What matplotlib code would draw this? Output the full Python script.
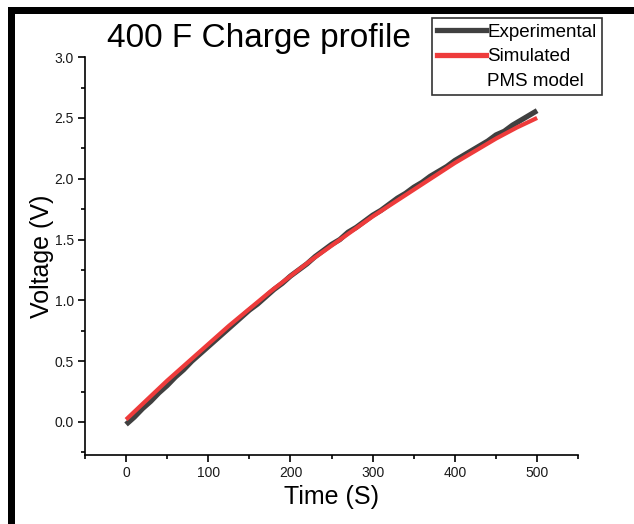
import matplotlib
matplotlib.use('Agg')
import matplotlib.pyplot as plt
from matplotlib.lines import Line2D
from matplotlib.patches import Rectangle

plt.rcParams['font.family'] = ['Liberation Sans', 'DejaVu Sans']

# experimental charge curve, read every 10 s
t_exp = [0, 10, 20, 30, 40, 50, 60, 70, 80, 90,
         100, 110, 120, 130, 140, 150, 160, 170, 180, 190,
         200, 210, 220, 230, 240, 250, 260, 270, 280, 290,
         300, 310, 320, 330, 340, 350, 360, 370, 380, 390,
         400, 410, 420, 430, 440, 450, 460, 470, 480, 490, 500]
v_exp = [-0.02, 0.04, 0.11, 0.17, 0.24, 0.30, 0.37, 0.43, 0.50, 0.56,
         0.62, 0.68, 0.74, 0.80, 0.86, 0.92, 0.97, 1.03, 1.09, 1.14,
         1.20, 1.25, 1.30, 1.36, 1.41, 1.46, 1.50, 1.56, 1.60, 1.65,
         1.70, 1.74, 1.79, 1.84, 1.88, 1.93, 1.97, 2.02, 2.06, 2.10,
         2.15, 2.19, 2.23, 2.27, 2.31, 2.36, 2.39, 2.44, 2.48, 2.52, 2.56]

# simulated PMS model, every 25 s
t_sim = [0, 25, 50, 75, 100, 125, 150, 175, 200, 225, 250,
         275, 300, 325, 350, 375, 400, 425, 450, 475, 500]
v_sim = [0.02, 0.18, 0.34, 0.49, 0.64, 0.79, 0.93, 1.07, 1.20, 1.33, 1.45,
         1.57, 1.69, 1.80, 1.91, 2.02, 2.13, 2.23, 2.33, 2.42, 2.50]

xticks = [0, 100, 200, 300, 400, 500]
yticks = [0.0, 0.5, 1.0, 1.5, 2.0, 2.5, 3.0]

fig = plt.figure(figsize=(6.34, 5.24), dpi=100)
ax = fig.add_axes([0.134, 0.132, 0.778, 0.759])

ax.plot(t_exp, v_exp, color='#404040', lw=3.8, solid_capstyle='butt')
ax.plot(t_sim, v_sim, color='#ee3b3b', lw=3.0, solid_capstyle='butt')

ax.set_xlim(-50, 550)
ax.set_ylim(-0.27, 3.0)
ax.set_xticks(xticks)
ax.set_yticks(yticks)
ax.set_xticks([-50, 50, 150, 250, 350, 450, 550], minor=True)
ax.set_yticks([-0.25, 0.25, 0.75, 1.25, 1.75, 2.25, 2.75], minor=True)
ax.set_yticklabels(['%.1f' % v for v in yticks])

for s in ['top', 'right']:
    ax.spines[s].set_visible(False)
for s in ['left', 'bottom']:
    ax.spines[s].set_linewidth(1.2)
ax.tick_params(which='major', direction='out', length=5, width=1.2,
               labelsize=10, pad=3, labelcolor='#1a1a1a')
ax.tick_params(which='minor', direction='out', length=3, width=1.2)

ax.set_xlabel('Time (S)', fontsize=18, labelpad=4)
ax.set_ylabel('Voltage (V)', fontsize=18, labelpad=0)

fig.text(0.408, 0.927, '400 F Charge profile', fontsize=24, ha='center', va='center')

handles = [Line2D([], [], color='#404040', lw=3.8),
           Line2D([], [], color='#ee3b3b', lw=3.8),
           Line2D([], [], color='none')]
leg = fig.legend(handles, ['Experimental', 'Simulated', 'PMS model'],
                 loc='upper left', bbox_to_anchor=(0.681, 0.966),
                 fontsize=13.5, frameon=True, fancybox=False,
                 handlelength=2.6, handletextpad=0.05, borderpad=0.3,
                 labelspacing=0.4, borderaxespad=0)
leg.get_frame().set_edgecolor('black')
leg.get_frame().set_linewidth(1.2)

# black frame on top and left edges
fig.add_artist(Rectangle((8 / 634, 1 - 14 / 524), 1, 7 / 524,
                         transform=fig.transFigure, color='black', lw=0))
fig.add_artist(Rectangle((8 / 634, 0), 7 / 634, 1 - 7 / 524,
                         transform=fig.transFigure, color='black', lw=0))

fig.savefig('out.png', dpi=100)
